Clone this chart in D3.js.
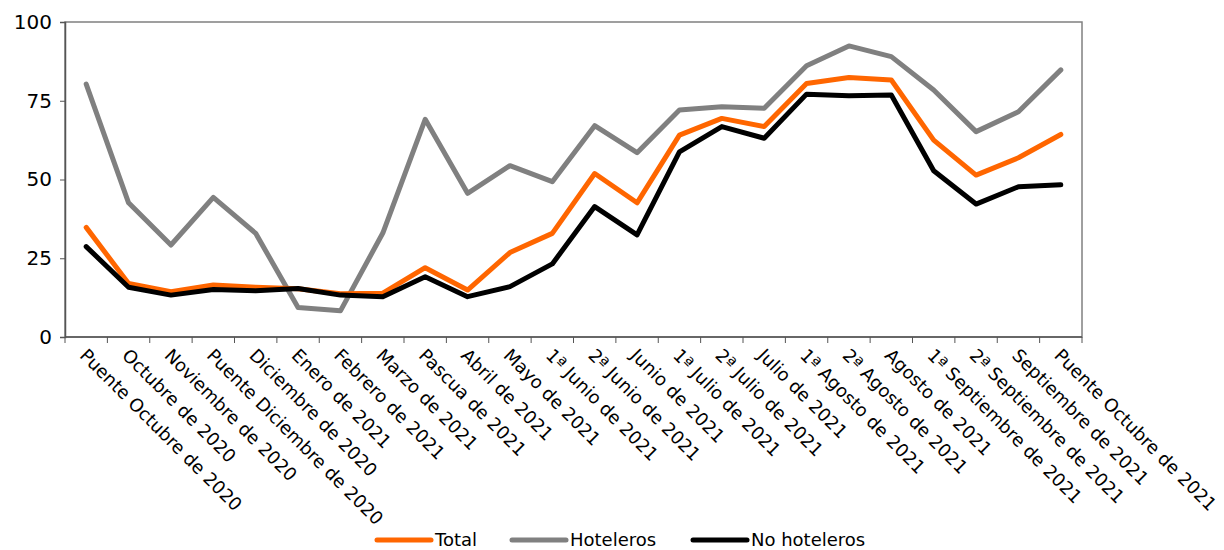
<!DOCTYPE html>
<meta charset="utf-8">
<style>
  body { margin: 0; background: #fff; }
  text { font-family: "DejaVu Sans", sans-serif; fill: #000; }
</style>
<div id="chart"></div>
<script src="https://d3js.org/d3.v7.min.js"></script>
<script>
    var categories = ["Puente Octubre de 2020", "Octubre de 2020", "Noviembre de 2020", "Puente Diciembre de 2020",
        "Diciembre de 2020", "Enero de 2021", "Febrero de 2021", "Marzo de 2021", "Pascua de 2021", "Abril de 2021",
        "Mayo de 2021", "1ª Junio de 2021", "2ª Junio de 2021", "Junio de 2021", "1ª Julio de 2021", "2ª Julio de 2021",
        "Julio de 2021", "1ª Agosto de 2021", "2ª Agosto de 2021", "Agosto de 2021", "1ª Septiembre de 2021",
        "2ª Septiembre de 2021", "Septiembre de 2021", "Puente Octubre de 2021"];
    var total = [34.8, 17.0, 14.4, 16.5, 15.8, 15.3, 13.7, 13.9, 22.0, 14.9, 26.8, 32.9, 51.9, 42.6, 64.1, 69.4, 66.8, 80.5, 82.4, 81.6, 62.5, 51.4, 56.9, 64.3];
    var hoteleros = [80.3, 42.6, 29.2, 44.3, 32.9, 9.4, 8.3, 33.0, 69.1, 45.6, 54.4, 49.3, 67.1, 58.5, 72.1, 73.1, 72.6, 86.1, 92.4, 89.0, 78.4, 65.2, 71.5, 84.8];
    var noHoteleros = [28.7, 15.8, 13.3, 15.1, 14.7, 15.4, 13.3, 12.8, 19.1, 12.8, 16.0, 23.2, 41.4, 32.4, 58.8, 66.8, 63.1, 77.1, 76.6, 76.8, 52.8, 42.2, 47.7, 48.3];
    var yTicks = [0, 25, 50, 75, 100];

    var series = [
        {name: "Total", values: total, color: "#ff6600"},
        {name: "Hoteleros", values: hoteleros, color: "#808080"},
        {name: "No hoteleros", values: noHoteleros, color: "#000000"}
    ];

    var margin = {top: 22, right: 142, bottom: 213, left: 65},
        width = 1224 - margin.left - margin.right,
        height = 550 - margin.top - margin.bottom;

    var svg = d3.select("#chart").append("svg")
        .attr("width", 1224).attr("height", 550);
    var g = svg.append("g").attr("transform", "translate(" + margin.left + "," + margin.top + ")");

    var x = d3.scaleBand().domain(categories).range([0, width]);
    var y = d3.scaleLinear().domain([0, 100]).range([height, 0]);

    // frame
    g.append("rect").attr("width", width).attr("height", height)
        .attr("fill", "none").attr("stroke", "#808080").attr("stroke-width", 1.5);

    // Y axis
    var yAxis = g.append("g")
        .call(d3.axisLeft(y).tickValues(yTicks).tickSize(5).tickPadding(8));
    yAxis.select(".domain").attr("stroke", "#555").attr("stroke-width", 1.5);
    yAxis.selectAll(".tick line").attr("stroke", "#555");
    yAxis.selectAll("text").attr("font-size", 20).style("font-family", "DejaVu Sans, sans-serif");

    // X axis: ticks at band boundaries
    var xAxis = g.append("g").attr("transform", "translate(0," + height + ")");
    xAxis.append("line").attr("x1", 0).attr("x2", width).attr("stroke", "#555").attr("stroke-width", 1.5);
    xAxis.selectAll(".bt").data(d3.range(categories.length + 1)).enter().append("line")
        .attr("x1", function(i) { return i * x.step(); })
        .attr("x2", function(i) { return i * x.step(); })
        .attr("y1", 0).attr("y2", 6).attr("stroke", "#555");
    xAxis.selectAll(".lbl").data(categories).enter().append("text")
        .attr("transform", function(d) { return "translate(" + (x(d) + x.bandwidth() / 2 - 3) + ",15) rotate(45)"; })
        .attr("font-size", 18)
        .attr("dy", "0.35em")
        .text(function(d) { return d; });

    // lines
    var line = d3.line()
        .x(function(d, i) { return x(categories[i]) + x.bandwidth() / 2; })
        .y(function(d) { return y(d); });

    [series[1], series[0], series[2]].forEach(function(s) {
        g.append("path").datum(s.values)
            .attr("fill", "none").attr("stroke", s.color)
            .attr("stroke-width", 5).attr("stroke-linejoin", "round").attr("stroke-linecap", "round")
            .attr("d", line);
    });

    // legend
    var legendX = [377, 512, 693];
    var legend = svg.append("g").attr("transform", "translate(0,540)");
    series.forEach(function(s, i) {
        legend.append("line").attr("x1", legendX[i]).attr("x2", legendX[i] + 54)
            .attr("stroke", s.color).attr("stroke-width", 5).attr("stroke-linecap", "round");
        legend.append("text").attr("x", legendX[i] + 58).attr("dy", "0.35em")
            .attr("font-size", 18).text(s.name);
    });
</script>
